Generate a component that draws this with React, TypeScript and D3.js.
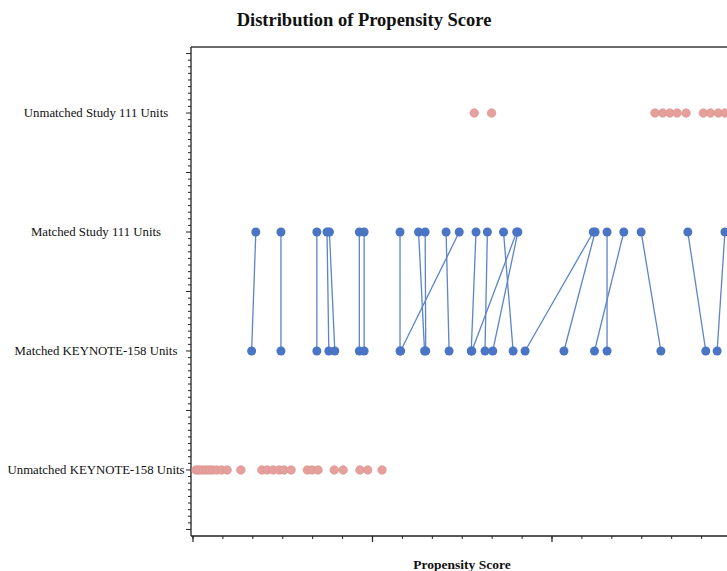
import React from "react";
import * as d3 from "d3";

// Row categories, top to bottom
const categories = [
  "Unmatched Study 111 Units",
  "Matched Study 111 Units",
  "Matched KEYNOTE-158 Units",
  "Unmatched KEYNOTE-158 Units",
];

// Matched pairs: propensity score of the Study 111 unit and its KEYNOTE-158 match
const matchedStudy111 = [
  0.105, 0.147, 0.207, 0.224, 0.228, 0.278, 0.286, 0.346, 0.445, 0.377, 0.388, 0.423,
  0.473, 0.492, 0.519, 0.541, 0.543, 0.669, 0.672, 0.692, 0.720, 0.749, 0.827, 0.889,
];
const matchedKeynote158 = [
  0.098, 0.147, 0.207, 0.227, 0.237, 0.278, 0.286, 0.346, 0.347, 0.387, 0.389, 0.428,
  0.465, 0.488, 0.535, 0.466, 0.501, 0.555, 0.620, 0.692, 0.671, 0.782, 0.857, 0.876,
];

// Units left without a match
const unmatchedStudy111 = [
  0.470, 0.499, 0.772, 0.785, 0.797, 0.809, 0.824, 0.853, 0.865, 0.878, 0.889,
];
const unmatchedKeynote158 = [
  0.005, 0.009, 0.013, 0.018, 0.023, 0.028, 0.033, 0.040, 0.048, 0.057, 0.080, 0.115,
  0.124, 0.134, 0.144, 0.152, 0.164, 0.191, 0.199, 0.209, 0.236, 0.251, 0.279, 0.292,
  0.316,
];

const xMajorTicks = [0, 0.3, 0.6, 0.9];

const W = 727;
const H = 571;
const left = 191;
const top = 47;
const bottom = 536;

const BLUE = "#4a74c4";
const LINE = "#5b84c9";
const PINK = "#e6a09c";

export default function App() {
  const x = d3.scaleLinear().domain([0, 0.9]).range([193, 731.5]);
  // row index 1..4 from top
  const y = d3.scaleLinear().domain([0.445, 4.555]).range([top, bottom]);
  const rowY = (i: number) => y(i + 1);

  const xMinor = d3.range(0, 0.9001, 0.05);
  const yTicks = d3.range(0, 74).map((k) => 0.5 + k / 18).filter((v) => y(v) >= top && y(v) <= bottom);
  const yMajor = (v: number) => Math.abs(v * 2 - Math.round(v * 2)) < 1e-6;

  const serif = "'Liberation Serif', 'Times New Roman', serif";

  return (
    <svg
      width={W}
      height={H}
      style={{ position: "absolute", left: 0, top: 0, background: "#fff" }}
      fontFamily={serif}
    >
      <text x={364} y={26} textAnchor="middle" fontSize={18.5} fontWeight="bold" fill="#111">
        Distribution of Propensity Score
      </text>

      {/* frame */}
      <line x1={left} x2={W + 10} y1={top} y2={top} stroke="#6a6a6a" strokeWidth={2} />
      <line x1={left} x2={left} y1={top} y2={bottom} stroke="#222" strokeWidth={1.3} />
      <line x1={left} x2={W + 10} y1={bottom} y2={bottom} stroke="#222" strokeWidth={1.3} />

      {/* y ticks */}
      {yTicks.map((v, i) => (
        <line
          key={"yt" + i}
          x1={left - (yMajor(v) ? 5 : 3)}
          x2={left}
          y1={y(v)}
          y2={y(v)}
          stroke="#222"
          strokeWidth={1}
        />
      ))}

      {/* x ticks */}
      {xMinor.map((v, i) => (
        <line key={"xm" + i} x1={x(v)} x2={x(v)} y1={bottom} y2={bottom + 3} stroke="#222" strokeWidth={1} />
      ))}
      {xMajorTicks.map((v, i) => (
        <line key={"xM" + i} x1={x(v)} x2={x(v)} y1={bottom} y2={bottom + 6} stroke="#222" strokeWidth={1.2} />
      ))}

      {/* category labels */}
      {categories.map((c, i) => (
        <text
          key={c}
          x={96}
          y={rowY(i) + 4}
          textAnchor="middle"
          fontSize={12.8}
          fill="#111"
        >
          {c}
        </text>
      ))}

      <text x={462} y={569} textAnchor="middle" fontSize={13.5} fontWeight="bold" fill="#111">
        Propensity Score
      </text>

      {/* match links */}
      {matchedStudy111.map((v, i) => (
        <line
          key={"ln" + i}
          x1={x(v)}
          y1={rowY(1)}
          x2={x(matchedKeynote158[i])}
          y2={rowY(2)}
          stroke={LINE}
          strokeWidth={1.3}
        />
      ))}

      {matchedStudy111.map((v, i) => (
        <circle key={"ms" + i} cx={x(v)} cy={rowY(1)} r={4.5} fill={BLUE} />
      ))}
      {matchedKeynote158.map((v, i) => (
        <circle key={"mk" + i} cx={x(v)} cy={rowY(2)} r={4.5} fill={BLUE} />
      ))}

      {unmatchedStudy111.map((v, i) => (
        <circle key={"us" + i} cx={x(v)} cy={rowY(0)} r={4.3} fill={PINK} stroke="#dc918d" strokeWidth={0.6} />
      ))}
      {unmatchedKeynote158.map((v, i) => (
        <circle key={"uk" + i} cx={x(v)} cy={rowY(3)} r={4.3} fill={PINK} stroke="#dc918d" strokeWidth={0.6} />
      ))}
    </svg>
  );
}
